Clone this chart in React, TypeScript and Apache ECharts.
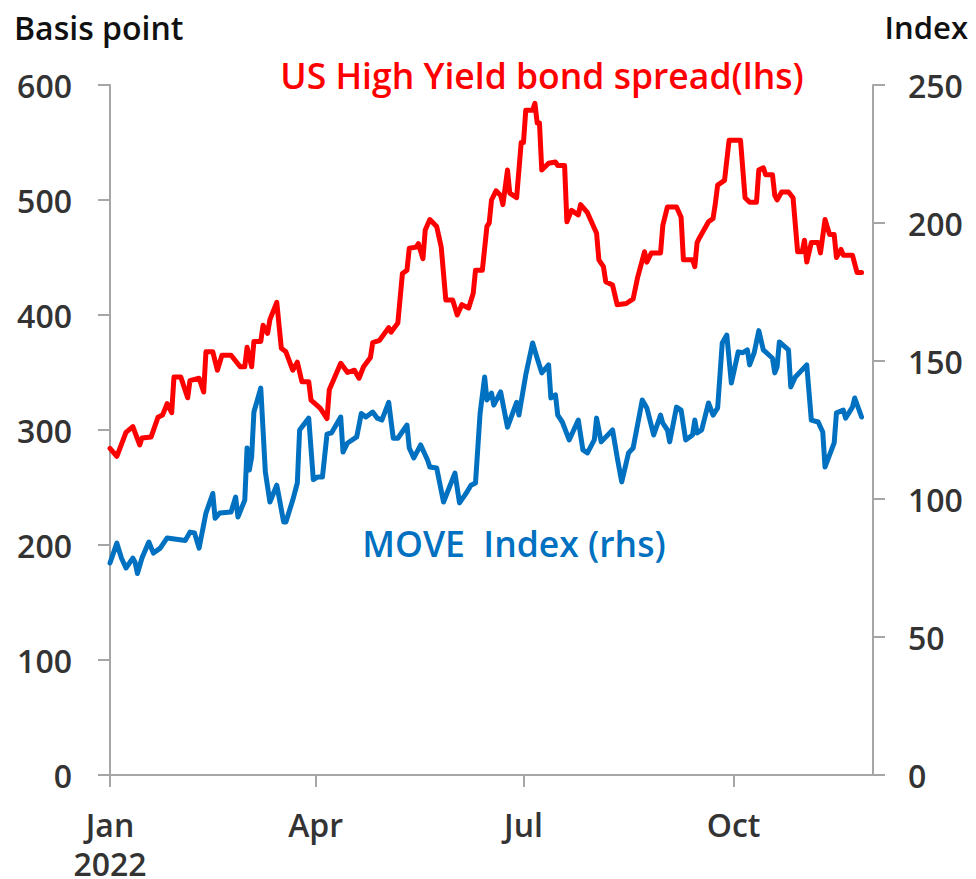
import React, { useEffect, useRef } from "react";
import * as echarts from "echarts";

const hyDates = [
  "2022-01-01","2022-01-04","2022-01-08","2022-01-11","2022-01-14","2022-01-15","2022-01-19","2022-01-22","2022-01-24","2022-01-26",
  "2022-01-28","2022-01-29","2022-02-01","2022-02-04","2022-02-05","2022-02-09","2022-02-11","2022-02-12","2022-02-15","2022-02-17",
  "2022-02-19","2022-02-23","2022-02-27","2022-03-01","2022-03-02","2022-03-04","2022-03-05","2022-03-08","2022-03-09","2022-03-11",
  "2022-03-12","2022-03-15","2022-03-17","2022-03-19","2022-03-22","2022-03-24","2022-03-26","2022-03-29","2022-03-30","2022-04-03",
  "2022-04-06","2022-04-07","2022-04-12","2022-04-15","2022-04-18","2022-04-20","2022-04-22","2022-04-25","2022-04-26","2022-04-29",
  "2022-05-03","2022-05-04","2022-05-07","2022-05-09","2022-05-11","2022-05-12","2022-05-15","2022-05-16","2022-05-18","2022-05-19",
  "2022-05-21","2022-05-24","2022-05-26","2022-05-28","2022-05-31","2022-06-02","2022-06-04","2022-06-07","2022-06-09","2022-06-10",
  "2022-06-13","2022-06-15","2022-06-16","2022-06-17","2022-06-19","2022-06-21","2022-06-22","2022-06-24","2022-06-25","2022-06-28",
  "2022-06-30","2022-07-01","2022-07-02","2022-07-05","2022-07-06","2022-07-07","2022-07-08","2022-07-09","2022-07-12","2022-07-15",
  "2022-07-16","2022-07-19","2022-07-20","2022-07-22","2022-07-25","2022-07-26","2022-07-29","2022-08-02","2022-08-03","2022-08-05",
  "2022-08-06","2022-08-09","2022-08-11","2022-08-15","2022-08-18","2022-08-20","2022-08-23","2022-08-24","2022-08-26","2022-08-30",
  "2022-08-31","2022-09-02","2022-09-06","2022-09-08","2022-09-09","2022-09-13","2022-09-14","2022-09-15","2022-09-16","2022-09-20",
  "2022-09-22","2022-09-23","2022-09-24","2022-09-27","2022-09-29","2022-10-04","2022-10-06","2022-10-08","2022-10-11","2022-10-12",
  "2022-10-14","2022-10-15","2022-10-18","2022-10-19","2022-10-20","2022-10-22","2022-10-25","2022-10-27","2022-10-29","2022-10-31",
  "2022-11-01","2022-11-02","2022-11-04","2022-11-07","2022-11-08","2022-11-10","2022-11-12","2022-11-14","2022-11-15","2022-11-17",
  "2022-11-18","2022-11-22","2022-11-24","2022-11-26",
];
const hyValues = [
  284, 277, 298, 303, 287, 293, 294, 311, 313, 323,
  315, 346, 346, 328, 343, 345, 333, 368, 368, 352,
  365, 365, 355, 355, 372, 355, 377, 377, 391, 384,
  396, 411, 371, 368, 352, 359, 342, 342, 326, 319,
  310, 335, 358, 350, 352, 345, 355, 363, 376, 378,
  389, 385, 393, 436, 439, 458, 459, 462, 449, 474,
  483, 477, 459, 413, 413, 400, 409, 406, 419, 439,
  439, 477, 480, 500, 508, 504, 496, 526, 506, 502,
  550, 550, 578, 578, 584, 567, 567, 526, 532, 533,
  530, 530, 481, 491, 487, 496, 489, 471, 448, 442,
  429, 426, 409, 410, 414, 433, 455, 446, 454, 454,
  478, 494, 494, 485, 448, 448, 442, 463, 467, 481,
  484, 497, 513, 517, 552, 552, 502, 498, 498, 526,
  528, 522, 522, 504, 500, 507, 507, 502, 455, 455,
  465, 446, 463, 463, 454, 483, 470, 470, 450, 457,
  452, 452, 437, 437,
];

const moveDates = [
  "2022-01-01","2022-01-04","2022-01-06","2022-01-08","2022-01-11","2022-01-12","2022-01-13","2022-01-15","2022-01-18","2022-01-20",
  "2022-01-23","2022-01-26","2022-02-03","2022-02-05","2022-02-07","2022-02-09","2022-02-12","2022-02-15","2022-02-16","2022-02-18",
  "2022-02-23","2022-02-25","2022-02-26","2022-03-01","2022-03-02","2022-03-03","2022-03-04","2022-03-05","2022-03-08","2022-03-10",
  "2022-03-12","2022-03-15","2022-03-16","2022-03-18","2022-03-19","2022-03-22","2022-03-24","2022-03-25","2022-03-29","2022-03-31",
  "2022-04-02","2022-04-04","2022-04-06","2022-04-08","2022-04-12","2022-04-13","2022-04-15","2022-04-19","2022-04-21","2022-04-23",
  "2022-04-26","2022-04-28","2022-04-30","2022-05-03","2022-05-05","2022-05-07","2022-05-11","2022-05-12","2022-05-14","2022-05-17",
  "2022-05-20","2022-05-21","2022-05-24","2022-05-27","2022-06-01","2022-06-03","2022-06-06","2022-06-08","2022-06-10","2022-06-12",
  "2022-06-14","2022-06-15","2022-06-17","2022-06-18","2022-06-21","2022-06-24","2022-06-28","2022-06-29","2022-07-02","2022-07-05",
  "2022-07-07","2022-07-09","2022-07-12","2022-07-13","2022-07-15","2022-07-16","2022-07-18","2022-07-21","2022-07-25","2022-07-27",
  "2022-07-29","2022-08-01","2022-08-02","2022-08-04","2022-08-09","2022-08-11","2022-08-13","2022-08-16","2022-08-18","2022-08-22",
  "2022-08-24","2022-08-27","2022-08-30","2022-08-31","2022-09-02","2022-09-03","2022-09-06","2022-09-08","2022-09-10","2022-09-13",
  "2022-09-14","2022-09-15","2022-09-17","2022-09-20","2022-09-22","2022-09-24","2022-09-26","2022-09-28","2022-09-30","2022-10-03",
  "2022-10-05","2022-10-07","2022-10-08","2022-10-10","2022-10-12","2022-10-14","2022-10-18","2022-10-19","2022-10-20","2022-10-21",
  "2022-10-25","2022-10-26","2022-10-28","2022-11-02","2022-11-04","2022-11-07","2022-11-09","2022-11-10","2022-11-14","2022-11-15",
  "2022-11-18","2022-11-19","2022-11-22","2022-11-23","2022-11-26",
];
const moveValues = [
  76.8, 84, 78.6, 75, 78.6, 77, 73, 78.6, 84.4, 80.4,
  82.2, 85.9, 85, 88, 87.7, 82.2, 94.9, 102, 93, 94.9,
  95.3, 100.7, 93.5, 99.6, 118.5, 110.5, 115.2, 131.5, 140.2, 109.8,
  98.9, 105, 100.7, 91.7, 91.7, 99.6, 105.8, 125, 129.3, 107,
  108, 108, 123.5, 124, 129.7, 117, 120.3, 122.5, 131, 129.7,
  131.5, 129.3, 128.6, 135, 122, 122, 126.8, 118.5, 114.9, 119.6,
  114.1, 111.6, 111.2, 98.9, 109.4, 98.6, 102.2, 105, 105.8, 131,
  144.2, 135.9, 138.4, 134, 138.8, 126, 135, 130.4, 145, 156.5,
  151, 145.7, 148.6, 136.6, 137.7, 130.4, 127.9, 121.4, 128.6, 117.8,
  116.7, 121.4, 129.3, 120.7, 125, 115.2, 106.2, 116.7, 118.5, 135.9,
  133, 123.2, 130.4, 127.5, 125, 120.7, 133.3, 132.2, 121.4, 123.2,
  128.6, 123.9, 125, 134.8, 130.4, 133, 156.5, 159.4, 142, 153.3,
  153, 154, 148.6, 153, 161, 154, 151, 145.7, 147.8, 156.9,
  154, 140.6, 144.2, 148.6, 128.6, 127.9, 124.3, 111.6, 120.3, 131.2,
  132.2, 129.3, 133.3, 136.6, 129.7,
];

const xMin = "2022-01-01";
const xMax = "2022-12-01";
const xTickDates = ["2022-01-01", "2022-04-01", "2022-07-01", "2022-10-01"];
const xTickLabels = ["Jan\n2022", "Apr", "Jul", "Oct"];
const leftTitle = "Basis point";
const rightTitle = "Index";
const hyLabel = "US High Yield bond spread(lhs)";
const moveLabel = "MOVE  Index (rhs)";

const FONT = "'Open Sans', 'Noto Sans', sans-serif";
const AXIS_COLOR = "#a6a6a6";
const LABEL_COLOR = "#333333";

const ts = (s: string) => {
  const [y, m, d] = s.split("-").map(Number);
  return Date.UTC(y, m - 1, d);
};

export default function App() {
  const ref = useRef<HTMLDivElement>(null);

  useEffect(() => {
    if (!ref.current) return;
    const chart = echarts.init(ref.current, null, { renderer: "svg" });
    const tickValues = xTickDates.map(ts);

    const axisLabelBase = {
      fontFamily: FONT,
      fontSize: 32,
      fontWeight: 600,
      color: LABEL_COLOR,
    };

    chart.setOption({
      animation: false,
      backgroundColor: "#ffffff",
      grid: {
        left: 110,
        right: 103,
        top: 85,
        bottom: 104,
        outerBoundsMode: "none",
        containLabel: false,
      },
      xAxis: {
        type: "value",
        min: ts(xMin),
        max: ts(xMax),
        splitLine: { show: false },
        axisLine: { show: true, lineStyle: { color: AXIS_COLOR, width: 2 } },
        axisTick: {
          show: true,
          length: 12,
          customValues: tickValues,
          lineStyle: { color: AXIS_COLOR, width: 2 },
        },
        axisLabel: {
          ...axisLabelBase,
          customValues: tickValues,
          margin: 30,
          lineHeight: 39,
          formatter: (v: number) => {
            const i = tickValues.indexOf(v);
            return i >= 0 ? xTickLabels[i] : "";
          },
        },
      },
      yAxis: [
        {
          type: "value",
          min: 0,
          max: 600,
          interval: 100,
          position: "left",
          splitLine: { show: false },
          axisLine: { show: true, lineStyle: { color: AXIS_COLOR, width: 2 } },
          axisTick: { show: true, length: 12, lineStyle: { color: AXIS_COLOR, width: 2 } },
          axisLabel: { ...axisLabelBase, margin: 38 },
        },
        {
          type: "value",
          min: 0,
          max: 250,
          interval: 50,
          position: "right",
          splitLine: { show: false },
          axisLine: { show: true, lineStyle: { color: AXIS_COLOR, width: 2 } },
          axisTick: { show: true, length: 12, lineStyle: { color: AXIS_COLOR, width: 2 } },
          axisLabel: { ...axisLabelBase, margin: 35 },
        },
      ],
      series: [
        {
          name: hyLabel,
          type: "line",
          yAxisIndex: 0,
          showSymbol: false,
          symbol: "none",
          lineStyle: { color: "#ff0000", width: 5, join: "round", cap: "round" },
          data: hyDates.map((d, i) => [ts(d), hyValues[i]]),
        },
        {
          name: moveLabel,
          type: "line",
          yAxisIndex: 1,
          showSymbol: false,
          symbol: "none",
          lineStyle: { color: "#0070c0", width: 5, join: "round", cap: "round" },
          data: moveDates.map((d, i) => [ts(d), moveValues[i]]),
        },
      ],
      graphic: [
        {
          type: "text",
          x: 14,
          y: 27,
          style: {
            text: leftTitle,
            fontFamily: FONT,
            fontSize: 32,
            fontWeight: 600,
            fill: "#111111",
            align: "left",
            verticalAlign: "middle",
          },
        },
        {
          type: "text",
          x: 968,
          y: 27,
          style: {
            text: rightTitle,
            fontFamily: FONT,
            fontSize: 31,
            fontWeight: 600,
            fill: "#111111",
            align: "right",
            verticalAlign: "middle",
          },
        },
        {
          type: "text",
          x: 542,
          y: 75,
          style: {
            text: hyLabel,
            fontFamily: FONT,
            fontSize: 35.5,
            fontWeight: 600,
            fill: "#ff0000",
            align: "center",
            verticalAlign: "middle",
          },
        },
        {
          type: "text",
          x: 514,
          y: 543,
          style: {
            text: moveLabel,
            fontFamily: FONT,
            fontSize: 35.5,
            fontWeight: 600,
            fill: "#0070c0",
            align: "center",
            verticalAlign: "middle",
          },
        },
      ],
    });

    return () => chart.dispose();
  }, []);

  return (
    <div
      ref={ref}
      style={{ position: "fixed", left: 0, top: 0, width: 976, height: 879 }}
    />
  );
}
